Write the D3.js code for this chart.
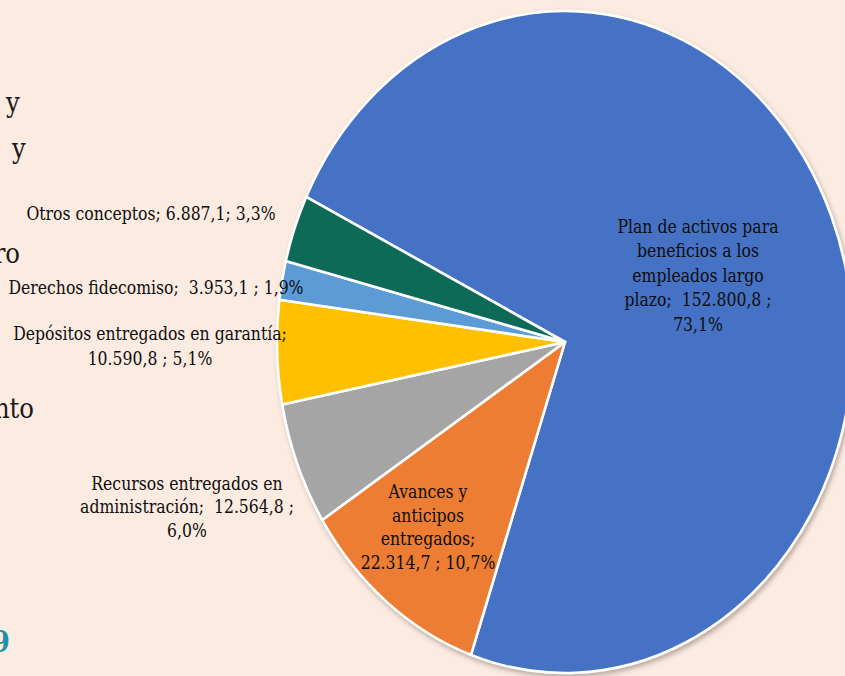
<!DOCTYPE html>
<html>
<head>
<meta charset="utf-8">
<script src="https://cdn.jsdelivr.net/npm/d3@7"></script>
<style>
  html, body { margin: 0; padding: 0; background: #FBEBE1; }
  svg { display: block; }
  text { white-space: pre; }
</style>
</head>
<body>
<svg id="chart" width="845" height="676"></svg>
<script>
// ---- data ----
const categories = [
  "Plan de activos para beneficios a los empleados largo plazo",
  "Avances y anticipos entregados",
  "Recursos entregados en administración",
  "Depósitos entregados en garantía",
  "Derechos fidecomiso",
  "Otros conceptos"
];
const values = [152800.8, 22314.7, 12564.8, 10590.8, 3953.1, 6887.1];
const colors = ["#4472C4", "#ED7D31", "#A5A5A5", "#FFC000", "#5B9BD5", "#0F6B57"];
// label line templates ({v} = value, {p} = percentage)
const labelLines = [
  ["Plan de activos para", "beneficios a los", "empleados largo", "plazo;  {v} ;", "{p}"],
  ["Avances y", "anticipos", "entregados;", "{v} ; {p}"],
  ["Recursos entregados en", "administración;  {v} ;", "{p}"],
  ["Depósitos entregados en garantía;", "{v} ; {p}"],
  ["Derechos fidecomiso;  {v} ; {p}"],
  ["Otros conceptos; {v}; {p}"]
];
// cropped fragments of surrounding slide text
const fragments = ["y", "y", "ro", "nto", "9"];

// ---- layout (screen px) ----
const W = 845, H = 676;
const cx = 565, cy = 342, rx = 288, ry = 331;
const sx = rx / ry;               // horizontal squeeze of the picture
const startDeg = 296;
const labelPos = [                 // centre x, first baseline, line height
  {x: 698, y: 233, lh: 24.5},
  {x: 428, y: 498, lh: 23.6},
  {x: 187, y: 490, lh: 23.5},
  {x: 150, y: 340, lh: 25},
  {x: 156, y: 294, lh: 24},
  {x: 151, y: 220, lh: 24}
];
const fragPos = [
  {x: 6, y: 112, anchor: "start", size: 28, color: "#1a1a1a", weight: "normal"},
  {x: 12, y: 158, anchor: "start", size: 28, color: "#1a1a1a", weight: "normal"},
  {x: 20, y: 263, anchor: "end", size: 28, color: "#1a1a1a", weight: "normal"},
  {x: 34, y: 418, anchor: "end", size: 28, color: "#1a1a1a", weight: "normal"},
  {x: 10, y: 652, anchor: "end", size: 30, color: "#1B93A6", weight: "bold"}
];

const locale = d3.formatLocale({decimal: ",", thousands: ".", grouping: [3], currency: ["", ""]});
const fmtV = locale.format(",.1f");
const fmtP = locale.format(".1%");
const total = d3.sum(values);

const svg = d3.select("#chart");
const defs = svg.append("defs");
const f = defs.append("filter").attr("id", "shadow")
  .attr("x", "-10%").attr("y", "-10%").attr("width", "120%").attr("height", "120%");
f.append("feDropShadow").attr("dx", 2).attr("dy", 3).attr("stdDeviation", 2.5)
  .attr("flood-color", "#6b5a50").attr("flood-opacity", 0.45);

const root = svg.append("g").attr("transform", `scale(${sx},1)`);

const pie = d3.pie().sort(null).value(d => d)
  .startAngle(startDeg * Math.PI / 180)
  .endAngle(startDeg * Math.PI / 180 + 2 * Math.PI);
const arc = d3.arc().innerRadius(0).outerRadius(ry);

const pieG = root.append("g")
  .attr("transform", `translate(${cx / sx},${cy})`)
  .attr("filter", "url(#shadow)");
pieG.selectAll("path")
  .data(pie(values))
  .join("path")
  .attr("d", arc)
  .attr("fill", (d, i) => colors[i])
  .attr("stroke", "#ffffff")
  .attr("stroke-width", 2.6)
  .attr("stroke-linejoin", "round")
  .attr("vector-effect", "non-scaling-stroke");

// data labels
const lblG = root.append("g")
  .attr("font-family", "'DejaVu Serif', serif")
  .attr("font-size", 18)
  .attr("fill", "#0d0d0d")
  .attr("text-anchor", "middle");
values.forEach((v, i) => {
  const lines = labelLines[i].map(s => s.replace("{v}", fmtV(v)).replace("{p}", fmtP(v / total)));
  const p = labelPos[i];
  const t = lblG.append("text").attr("x", p.x / sx).attr("y", p.y);
  lines.forEach((s, j) => {
    t.append("tspan").attr("x", p.x / sx).attr("y", p.y + j * p.lh).text(s);
  });
});

// cropped slide text fragments
fragments.forEach((s, i) => {
  const p = fragPos[i];
  root.append("text")
    .attr("x", p.x / sx).attr("y", p.y)
    .attr("text-anchor", p.anchor)
    .attr("font-family", "'DejaVu Serif', serif")
    .attr("font-size", p.size)
    .attr("font-weight", p.weight)
    .attr("fill", p.color)
    .text(s);
});
</script>
</body>
</html>
